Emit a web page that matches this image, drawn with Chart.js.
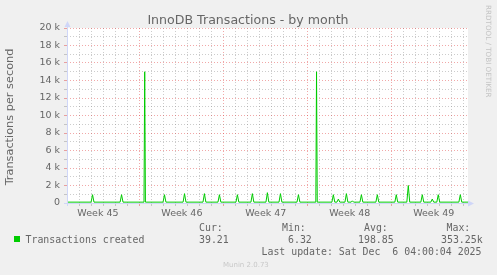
<!DOCTYPE html>
<html lang="en">
<head>
    <meta charset="UTF-8">
    <title>InnoDB Transactions - by month</title>
    <script src="https://cdn.jsdelivr.net/npm/chart.js"></script>
    <style>
        html, body { margin: 0; padding: 0; background: #f0f0f0; }
        #wrap { width: 497px; height: 275px; }
    </style>
</head>
<body>
    <div id="wrap"><canvas id="txChart" width="497" height="275"></canvas></div>

    <script>
        // x = days from the left of the month window, y = transactions per second
        const dayPts = [-0.08,
            1.93, 2.05, 2.17,   4.35, 4.47, 4.59,   6.34, 6.40, 6.46,   7.93, 8.05, 8.17,
            9.60, 9.72, 9.84,   11.26, 11.38, 11.50, 12.51, 12.63, 12.75, 14.01, 14.13, 14.25,
            15.26, 15.38, 15.50, 16.51, 16.63, 16.75, 17.60, 17.72, 17.84, 19.10, 19.22, 19.34,
            20.67, 20.73, 20.79, 22.01, 22.13, 22.25, 22.43, 22.55, 22.67, 23.10, 23.22, 23.34,
            23.62, 23.72, 23.82, 24.35, 24.47, 24.59, 25.68, 25.80, 25.92, 27.26, 27.38, 27.50,
            28.26, 28.38, 28.50, 29.43, 29.55, 29.67, 30.26, 30.38, 30.50, 30.76, 30.88, 31.00,
            32.60, 32.72, 32.84, 33.36];
        const txPts = [100,
            100, 950, 100,      100, 950, 100,      100, 15000, 100,    100, 950, 100,
            100, 1070, 100,     100, 1070, 100,     100, 950, 100,      100, 950, 100,
            100, 1070, 100,     100, 1180, 100,     100, 1070, 100,     100, 950, 100,
            100, 15000, 100,    100, 950, 100,      100, 450, 100,      100, 1070, 100,
            100, 250, 100,      100, 950, 100,      100, 950, 100,      100, 950, 100,
            100, 2000, 100,     100, 950, 100,      100, 450, 100,      100, 950, 100,
            100, 950, 100,      100];

        const weekLabels = ['Week 45', 'Week 46', 'Week 47', 'Week 48', 'Week 49'];
        const weekLabelDays = [2, 9, 16, 23, 30];
        const weekStarts = [6, 13, 20, 27];
        const dayTicks = [0, 1, 2, 3, 4, 5, 6, 7, 8, 9, 10, 11, 12, 13, 14, 15, 16,
            17, 18, 19, 20, 21, 22, 23, 24, 25, 26, 27, 28, 29, 30, 31, 32, 33];

        const statNames = ['Cur:', 'Min:', 'Avg:', 'Max:'];
        const statValues = ['39.21', '6.32', '198.85', '353.25k'];

        const MGRID = 'rgba(222, 48, 47, 0.42)';
        const GRID = 'rgba(143, 143, 143, 0.45)';
        const FONT = '#666666';
        const AXIS = '#cfd6f8';

        Chart.defaults.font.family = 'DejaVu Sans';

        const munin = {
            id: 'munin',
            beforeDraw(chart) {
                const { ctx, chartArea: a } = chart;
                ctx.save();
                ctx.fillStyle = '#f0f0f0';
                ctx.fillRect(0, 0, chart.width, chart.height);
                ctx.fillStyle = '#ffffff';
                ctx.fillRect(a.left, a.top, a.right - a.left, a.bottom - a.top);
                ctx.restore();
            },
            afterDraw(chart) {
                const { ctx, chartArea: a } = chart;
                ctx.save();

                // axes with arrows
                ctx.strokeStyle = AXIS;
                ctx.fillStyle = AXIS;
                ctx.lineWidth = 1;
                ctx.beginPath();
                ctx.moveTo(a.left + 0.5, a.bottom + 3);
                ctx.lineTo(a.left + 0.5, a.top - 3);
                ctx.moveTo(a.left - 3, a.bottom + 0.5);
                ctx.lineTo(a.right + 2, a.bottom + 0.5);
                ctx.stroke();
                ctx.beginPath();
                ctx.moveTo(a.left + 0.5, a.top - 7);
                ctx.lineTo(a.left - 2.5, a.top - 1);
                ctx.lineTo(a.left + 3.5, a.top - 1);
                ctx.fill();
                ctx.beginPath();
                ctx.moveTo(a.right + 6, a.bottom + 0.5);
                ctx.lineTo(a.right, a.bottom - 2.5);
                ctx.lineTo(a.right, a.bottom + 3.5);
                ctx.fill();

                // title
                ctx.fillStyle = FONT;
                ctx.font = '12.6px "DejaVu Sans"';
                ctx.textAlign = 'center';
                ctx.textBaseline = 'alphabetic';
                ctx.fillText('InnoDB Transactions - by month', 248, 24);

                // vertical axis title
                ctx.save();
                ctx.translate(10.5, 117);
                ctx.rotate(-Math.PI / 2);
                ctx.font = '11.3px "DejaVu Sans"';
                ctx.textBaseline = 'middle';
                ctx.fillText('Transactions per second', 0, 0);
                ctx.restore();

                // rrdtool watermark
                ctx.save();
                ctx.translate(488, 5);
                ctx.rotate(Math.PI / 2);
                ctx.fillStyle = '#c4c4c4';
                ctx.font = '7.2px "DejaVu Sans"';
                ctx.textAlign = 'left';
                ctx.textBaseline = 'middle';
                ctx.fillText('RRDTOOL / TOBI OETIKER', 0, 0);
                ctx.restore();

                // legend
                ctx.fillStyle = '#00cc00';
                ctx.fillRect(14, 236, 6, 6);
                ctx.fillStyle = FONT;
                ctx.font = '9.9px "DejaVu Sans Mono"';
                ctx.textAlign = 'left';
                ctx.fillText('Transactions created', 25.5, 243);
                const nameX = [199, 282, 364, 446.5];
                const valX = [199, 288, 358, 441];
                statNames.forEach((n, i) => ctx.fillText(n, nameX[i], 230.5));
                statValues.forEach((v, i) => ctx.fillText(v, valX[i], 243));
                ctx.fillText('Last update: Sat Dec  6 04:00:04 2025', 261.5, 254.5);

                ctx.fillStyle = '#c8c8c8';
                ctx.font = '7px "DejaVu Sans"';
                ctx.fillText('Munin 2.0.73', 223, 266.5);
                ctx.restore();
            }
        };

        new Chart(document.getElementById('txChart'), {
            type: 'line',
            data: {
                datasets: [{
                    label: 'Transactions created',
                    data: dayPts.map((d, i) => ({ x: d, y: txPts[i] })),
                    borderColor: '#00cc00',
                    borderWidth: 1,
                    pointRadius: 0,
                    tension: 0,
                    fill: false
                }]
            },
            options: {
                responsive: false,
                animation: false,
                layout: { padding: { left: 0, top: 28, right: 29, bottom: 0 } },
                plugins: {
                    legend: { display: false },
                    title: { display: false },
                    tooltip: { enabled: false }
                },
                scales: {
                    x: {
                        type: 'linear',
                        min: -0.08,
                        max: 33.36,
                        afterBuildTicks: s => { s.ticks = dayTicks.map(v => ({ value: v })); },
                        afterFit: s => { s.height = 72; },
                        grid: {
                            drawTicks: true,
                            tickLength: 3,
                            color: c => weekStarts.includes(c.tick && c.tick.value) ? MGRID : GRID
                        },
                        border: { display: false, dash: [1, 2] },
                        ticks: {
                            autoSkip: false,
                            maxRotation: 0,
                            padding: 2,
                            labelOffset: 6,
                            color: FONT,
                            font: { size: 9.5 },
                            callback: v => {
                                const i = weekLabelDays.indexOf(v);
                                return i >= 0 ? weekLabels[i] : '';
                            }
                        }
                    },
                    y: {
                        min: 0,
                        max: 20000,
                        afterFit: s => { s.width = 67; },
                        grid: {
                            drawTicks: true,
                            tickLength: 3,
                            color: c => (c.tick && c.tick.value % 2000 === 0) ? MGRID : GRID
                        },
                        border: { display: false, dash: [1, 2] },
                        ticks: {
                            stepSize: 1000,
                            autoSkip: false,
                            padding: 4,
                            color: FONT,
                            font: { size: 9.5 },
                            callback: v => v % 2000 !== 0 ? '' : (v === 0 ? '0' : (v / 1000) + ' k')
                        }
                    }
                }
            },
            plugins: [munin]
        });
    </script>
</body>
</html>
